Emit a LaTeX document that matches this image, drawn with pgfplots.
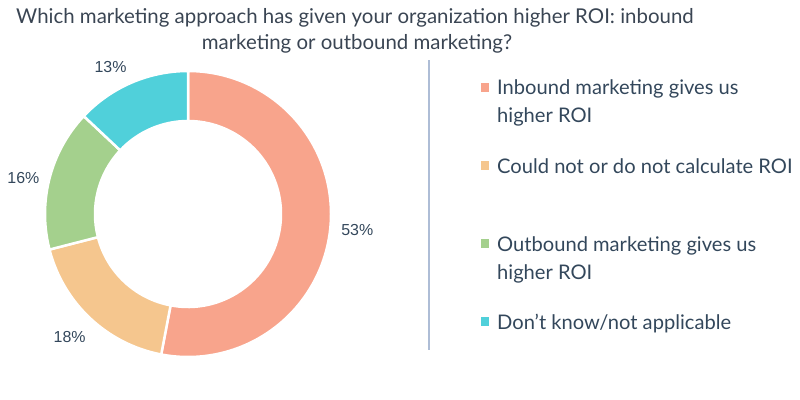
\documentclass[border=0pt]{standalone}
\usepackage{pgfplots}
\pgfplotsset{compat=1.18}
\usepackage{pgfplotstable}
\usepackage{fontspec}
\setmainfont{Lato}
\newfontfamily\titlefont{Lato}
\newfontfamily\arialfont{Liberation Sans}
\definecolor{pie0}{HTML}{F8A48C}
\definecolor{pie1}{HTML}{F5C68E}
\definecolor{pie2}{HTML}{A4D08D}
\definecolor{pie3}{HTML}{50D0DA}
\definecolor{txt}{HTML}{33475B}
\definecolor{ttl}{HTML}{3A4553}
\definecolor{sep}{HTML}{AEBDD6}
% value, and a small nudge (px) of each percentage label
\pgfplotstableread{
label value ldx ldy
Inbound 53 0 0
Could 18 -2 1
Outbound 16 0 -6
Dont 13 -10 -9
}\piedata
\begin{document}
\begin{tikzpicture}
\gdef\cumangle{90}
\foreach \i in {0,...,3}{%
  \pgfplotstablegetelem{\i}{ldx}\of\piedata
  \expandafter\xdef\csname dx\i\endcsname{\pgfplotsretval}%
  \pgfplotstablegetelem{\i}{ldy}\of\piedata
  \expandafter\xdef\csname dy\i\endcsname{\pgfplotsretval}%
  \pgfplotstablegetelem{\i}{value}\of\piedata
  \pgfmathsetmacro{\endang}{\cumangle - 3.6*\pgfplotsretval}%
  \pgfmathsetmacro{\midang}{(\cumangle + \endang)/2}%
  \expandafter\xdef\csname sA\i\endcsname{\cumangle}%
  \expandafter\xdef\csname eA\i\endcsname{\endang}%
  \expandafter\xdef\csname mA\i\endcsname{\midang}%
  \expandafter\xdef\csname val\i\endcsname{\pgfplotsretval}%
  \xdef\cumangle{\endang}%
}
\begin{axis}[x=1bp, y=1bp, xmin=0, xmax=800, ymin=0, ymax=399,
  hide axis, clip=false]
\coordinate (BL) at (axis cs:0,0);
\coordinate (TR) at (axis cs:800,399);
% donut
\pgfplotsinvokeforeach{0,...,3}{
  \fill[pie#1, draw=white, line width=2.5bp]
    (axis cs:{188+143*cos(\csname sA#1\endcsname)},{185+143*sin(\csname sA#1\endcsname)})
    arc[start angle=\csname sA#1\endcsname, end angle=\csname eA#1\endcsname, radius=143bp]
    -- (axis cs:{188+93*cos(\csname eA#1\endcsname)},{185+93*sin(\csname eA#1\endcsname)})
    arc[start angle=\csname eA#1\endcsname, end angle=\csname sA#1\endcsname, radius=93bp]
    -- cycle;
  \node[txt, font=\arialfont\fontsize{16}{19}\selectfont, inner sep=0]
    at (axis cs:{188+170*cos(\csname mA#1\endcsname)+\csname dx#1\endcsname},{185+170*sin(\csname mA#1\endcsname)+\csname dy#1\endcsname})
    {\csname val#1\endcsname\%};
}
% title
\node[ttl, anchor=base, inner sep=0, font=\titlefont\fontsize{20.5}{24}\selectfont]
  at (axis cs:355,376) {Which marketing approach has given your organization higher ROI: inbound};
\node[ttl, anchor=base, inner sep=0, font=\titlefont\fontsize{20.5}{24}\selectfont]
  at (axis cs:357,350) {marketing or outbound marketing?};
% separator
\draw[sep, line width=2.5bp] (axis cs:429,339) -- (axis cs:429,49);
% legend
\fill[pie0] (axis cs:481,307) rectangle (axis cs:489,316);
\fill[pie1] (axis cs:481,229) rectangle (axis cs:489,238);
\fill[pie2] (axis cs:481,151) rectangle (axis cs:489,160);
\fill[pie3] (axis cs:481,73) rectangle (axis cs:489,82);
\begin{scope}[every node/.style={txt, anchor=base west, inner sep=0, font=\fontsize{20.2}{24}\selectfont}]
\node at (axis cs:497,305) {Inbound marketing gives us};
\node at (axis cs:497,277) {higher ROI};
\node at (axis cs:497,226) {Could not or do not calculate ROI};
\node at (axis cs:497,148) {Outbound marketing gives us};
\node at (axis cs:497,120) {higher ROI};
\node at (axis cs:497,70) {Don't know/not applicable};
\end{scope}
\end{axis}
\pgfresetboundingbox
\useasboundingbox (BL) rectangle (TR);
\end{tikzpicture}
\end{document}
